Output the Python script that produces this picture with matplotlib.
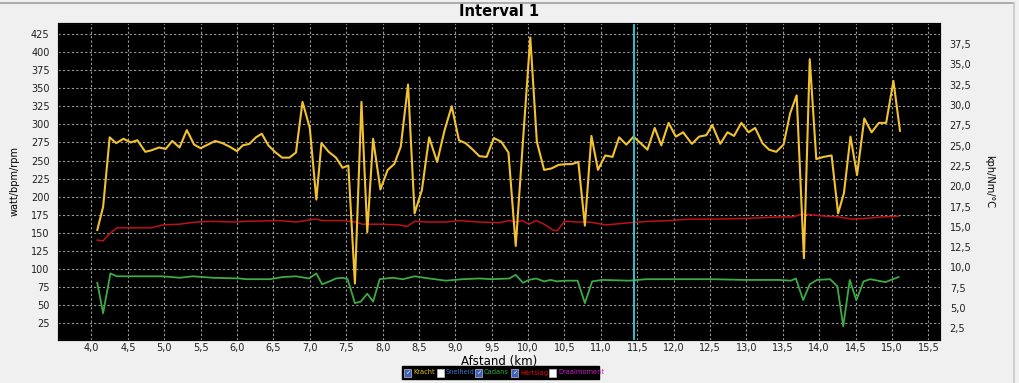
import matplotlib
matplotlib.use("Agg")
import matplotlib.pyplot as plt
from matplotlib.patches import Rectangle
from matplotlib.lines import Line2D
from matplotlib.ticker import FuncFormatter

# --- data ---
kracht_km = [4.08, 4.16, 4.25, 4.34, 4.44, 4.54, 4.63, 4.74, 4.82, 4.93, 5.02, 5.11, 5.21, 5.31,
             5.41, 5.50, 5.60, 5.70, 5.80, 5.90, 6.00, 6.08, 6.17, 6.26, 6.34, 6.43, 6.52, 6.62,
             6.72, 6.81, 6.90, 7.00, 7.09, 7.16, 7.26, 7.36, 7.45, 7.53, 7.62, 7.71, 7.79, 7.87,
             7.97, 8.07, 8.16, 8.25, 8.35, 8.44, 8.54, 8.64, 8.75, 8.85, 8.95, 9.05, 9.14, 9.24,
             9.33, 9.43, 9.53, 9.63, 9.73, 9.83, 9.93, 10.03, 10.12, 10.22, 10.32, 10.42, 10.52,
             10.60, 10.69, 10.78, 10.87, 10.96, 11.06, 11.16, 11.25, 11.35, 11.45, 11.64, 11.74,
             11.83, 11.93, 12.03, 12.13, 12.25, 12.35, 12.45, 12.53, 12.64, 12.74, 12.83, 12.93,
             13.03, 13.12, 13.22, 13.31, 13.41, 13.51, 13.60, 13.69, 13.79, 13.87, 13.96, 14.06,
             14.17, 14.26, 14.34, 14.43, 14.52, 14.62, 14.72, 14.82, 14.92, 15.02, 15.11]
kracht = [154, 186, 282, 274, 280, 275, 278, 262, 264, 268, 266, 277, 268, 292,
          272, 267, 272, 277, 274, 269, 263, 271, 273, 282, 287, 271, 262, 254,
          254, 261, 331, 295, 196, 274, 262, 254, 240, 243, 80, 331, 151, 280,
          210, 237, 245, 269, 355, 177, 209, 282, 248, 291, 325, 278, 274, 265,
          256, 255, 281, 276, 261, 132, 278, 420, 276, 237, 239, 244, 245,
          245, 248, 160, 284, 237, 257, 255, 282, 272, 283, 265, 295,
          271, 302, 283, 289, 273, 283, 285, 299, 273, 289, 284, 302,
          289, 295, 274, 265, 262, 272, 315, 340, 115, 390, 252, 255,
          257, 177, 205, 283, 230, 308, 289, 302, 302, 360, 291]

hart_km = [4.08, 4.16, 4.25, 4.35, 4.52, 4.82, 4.98, 5.21, 5.44, 5.67, 5.95, 6.13, 6.58, 6.81,
           6.99, 7.09, 7.17, 7.45, 7.63, 7.72, 7.96, 8.23, 8.34, 8.44, 8.64, 8.87, 9.05, 9.33,
           9.60, 9.74, 9.83, 9.92, 10.01, 10.11, 10.22, 10.34, 10.40, 10.50, 10.70, 10.84,
           11.07, 11.39, 11.66, 11.94, 12.21, 12.53, 12.99, 13.45, 13.63, 13.77, 13.90, 14.09,
           14.27, 14.45, 14.63, 14.86, 15.09]
hartslag = [140, 139, 149, 157, 157, 157, 161, 162, 165, 166, 165, 166, 167, 165,
            168, 169, 167, 167, 165, 162, 162, 161, 159, 166, 165, 165, 167, 165,
            164, 167, 165, 167, 162, 167, 162, 154, 153, 166, 165, 165,
            161, 164, 166, 167, 169, 169, 170, 172, 172, 176, 175, 173,
            172, 169, 170, 172, 173]

cad_km = [4.08, 4.16, 4.26, 4.35, 4.52, 4.75, 4.98, 5.21, 5.39, 5.67, 6.04, 6.13, 6.45, 6.63,
          6.81, 6.99, 7.09, 7.17, 7.27, 7.36, 7.45, 7.52, 7.62, 7.70, 7.79, 7.87, 7.96, 8.14,
          8.28, 8.44, 8.64, 8.87, 9.10, 9.33, 9.51, 9.74, 9.83, 9.93, 10.01, 10.11, 10.22,
          10.31, 10.40, 10.50, 10.68, 10.78, 10.88, 11.02, 11.39, 11.62, 11.94, 12.21, 12.53,
          12.99, 13.45, 13.61, 13.68, 13.78, 13.87, 13.97, 14.15, 14.25, 14.33, 14.42, 14.51,
          14.61, 14.70, 14.91, 15.09]
cadans = [81, 39, 94, 90, 90, 90, 90, 88, 90, 88, 87, 86, 86, 89,
          90, 87, 94, 79, 83, 87, 88, 86, 53, 55, 66, 55, 86, 88,
          86, 90, 87, 84, 86, 87, 86, 87, 92, 81, 85, 87, 83,
          85, 83, 84, 84, 53, 83, 85, 84, 86, 86, 86, 86,
          85, 85, 84, 87, 57, 79, 85, 86, 76, 21, 85, 57,
          83, 86, 82, 89]

cursor_km = 11.46
x_ticks = [4.0, 4.5, 5.0, 5.5, 6.0, 6.5, 7.0, 7.5, 8.0, 8.5, 9.0, 9.5, 10.0, 10.5,
           11.0, 11.5, 12.0, 12.5, 13.0, 13.5, 14.0, 14.5, 15.0, 15.5]
left_ticks = list(range(25, 426, 25))
right_ticks = [2.5, 5.0, 7.5, 10.0, 12.5, 15.0, 17.5, 20.0, 22.5, 25.0, 27.5, 30.0, 32.5, 35.0, 37.5]

legend_names = ["Kracht", "Snelheid", "Cadans", "Hartslag", "Draaimoment"]
legend_checked = [True, False, True, True, False]
legend_colors = ["#e8c020", "#3a7ad0", "#30b040", "#e01010", "#d020d0"]

komma = FuncFormatter(lambda v, p: f"{v:.1f}".replace(".", ","))

W, H = 1020, 383
fig = plt.figure(figsize=(W / 100, H / 100), dpi=100, facecolor="#f0f0f0")
ax = fig.add_axes([58 / W, 43 / H, 882 / W, 317 / H])
ax.set_facecolor("black")

ax.plot(hart_km, hartslag, color="#c01018", lw=1.1)
ax.plot(cad_km, cadans, color="#3cab44", lw=1.3)
ax.plot(kracht_km, kracht, color="#f2c230", lw=1.5)
ax.axvline(cursor_km, color="#38b8c8", lw=1.5)

ax.set_xlim(3.54, 15.66)
ax.set_ylim(2, 440)
ax.set_xticks(x_ticks)
ax.xaxis.set_major_formatter(komma)
ax.set_yticks(left_ticks)
ax.grid(True, color="#9a9a9a", ls=(0, (2, 2)), lw=0.8)
ax.tick_params(length=0, labelsize=7, colors="#202020", pad=6)
ax.tick_params(axis="x", pad=2.5)
for s in ax.spines.values():
    s.set_color("#808080")
ax.set_ylabel("watt/bpm/rpm", fontsize=7, labelpad=8)

ax2 = ax.twinx()
ax2.set_ylim(1.06, 40.1)
ax2.set_yticks(right_ticks)
ax2.yaxis.set_major_formatter(komma)
ax2.tick_params(length=0, labelsize=7, colors="#202020", pad=7)
ax2.set_ylabel("kph/Nm/°C", fontsize=7, rotation=-90, labelpad=16)

fig.text(0.489, 1 - 12 / H, "Interval 1", ha="center", va="center", fontsize=10.5, weight="bold")
fig.text(499 / W, 1 - 354.5 / H, "Afstand (km)", ha="center", va="top", fontsize=8.5)

# frame lines at top and right of the panel
fig.add_artist(Line2D([0, 1014 / W], [1 - 3 / H, 1 - 3 / H], color="#a0a0a0", lw=1.2))
fig.add_artist(Line2D([1014 / W, 1014 / W], [0, 1 - 3 / H], color="#c8c8c8", lw=1.2))

# checkbox legend under the axis
fig.add_artist(Rectangle((402 / W, 4 / H), 197 / W, 13 / H, transform=fig.transFigure,
                         color="black"))
box_px = [404, 437, 475, 511, 549]
for bx, name, checked, col in zip(box_px, legend_names, legend_checked, legend_colors):
    fig.add_artist(Rectangle((bx / W, 6.5 / H), 7 / W, 8 / H, transform=fig.transFigure,
                             facecolor="#4060c0" if checked else "white",
                             edgecolor="#c0c0c0", lw=0.5))
    if checked:
        fig.text((bx + 3.5) / W, 10.5 / H, "✓", color="white", fontsize=4.5,
                 ha="center", va="center")
    fig.text((bx + 9) / W, 10.5 / H, name, color=col, fontsize=4.8, ha="left", va="center")

fig.savefig("out.png", dpi=100, facecolor=fig.get_facecolor())
